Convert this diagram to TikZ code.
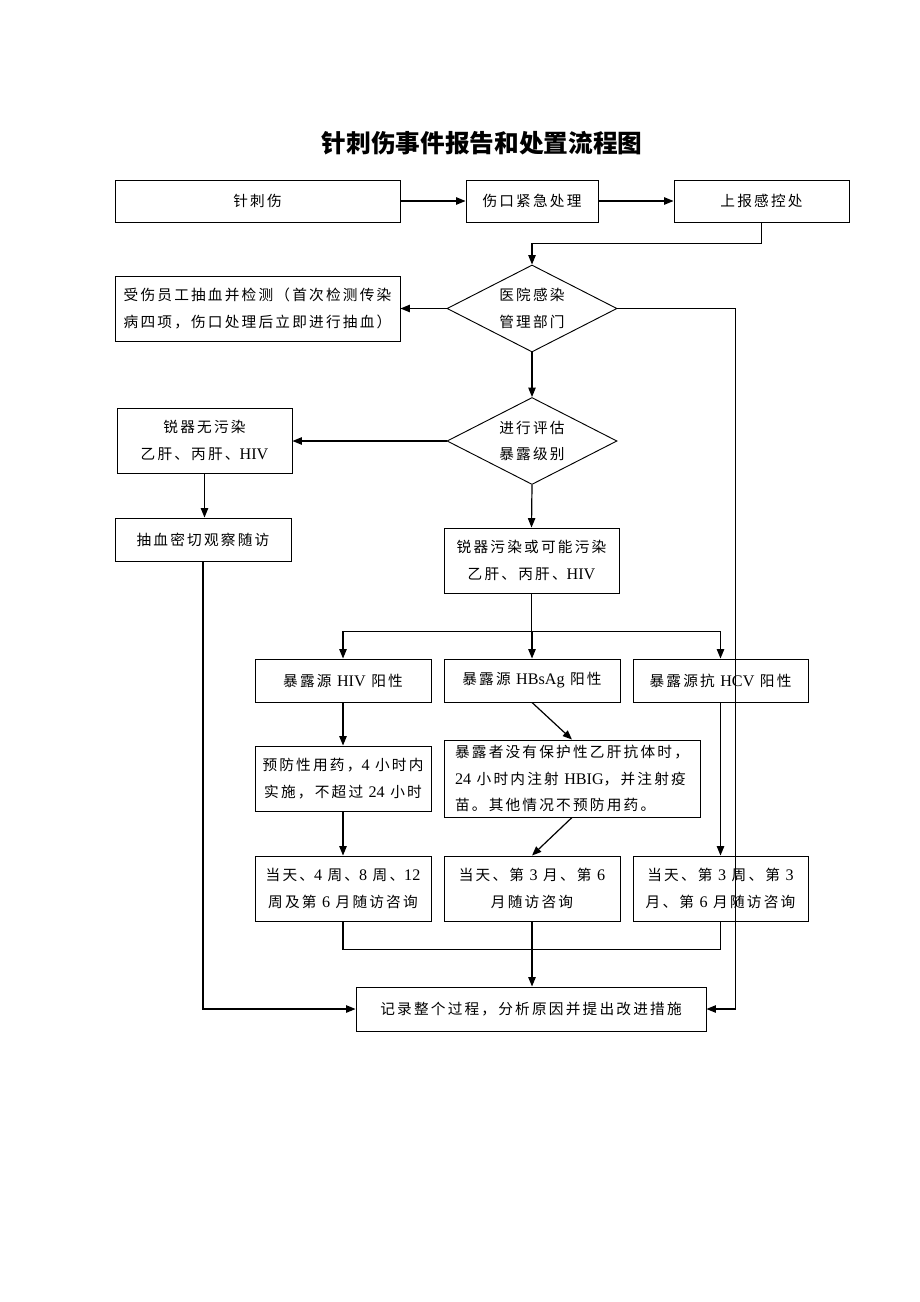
\documentclass[tikz,border=0pt]{standalone}
\usepackage{fontspec}
\setmainfont{Noto Sans CJK SC}[LetterSpace=15]
\newfontfamily\titlefont{Noto Sans CJK SC}
\newfontfamily\latinfont{Liberation Serif}[Scale=1.1]
\newcommand{\en}[1]{{\latinfont #1}}
\usepackage{tikz}
\usetikzlibrary{shapes.geometric, arrows.meta}

\begin{document}
\begin{tikzpicture}[
    x=0.75pt, y=-0.75pt,
    every node/.style={font=\fontsize{11pt}{20pt}\selectfont, align=center, inner sep=0pt},
    box/.style 2 args={draw, line width=0.7pt, minimum width=#1*0.75pt, minimum height=#2*0.75pt},
    choice/.style={draw, line width=0.7pt, diamond, aspect=2, minimum width=170*0.75pt, minimum height=87*0.75pt},
    arr/.style={line width=0.9pt, -{Triangle[length=7pt, width=5.5pt]}},
    link/.style={line width=0.9pt}
    ]
    \useasboundingbox (0,0) rectangle (920,1302);

    \node[font=\titlefont\bfseries\fontsize{18.5pt}{22pt}\selectfont] (title) at (482,143) {针刺伤事件报告和处置流程图};

    \node[box={285}{42}] (inj) at (257.5,201) {针刺伤};
    \node[box={132}{42}] (wound) at (532,201) {伤口紧急处理};
    \node[box={175}{42}] (report) at (761.5,201) {上报感控处};

    \node[choice] (dept) at (532,308.5) {医院感染\\管理部门};
    \node[box={285}{65}, align=left] (blood) at (257.5,308.5) {受伤员工抽血并检测（首次检测传染\\病四项，伤口处理后立即进行抽血）};

    \node[choice] (assess) at (532,441) {进行评估\\暴露级别};
    \node[box={175}{65}] (clean) at (204.5,440.5) {锐器无污染\\乙肝、丙肝、\en{HIV}};
    \node[box={176}{43}] (observe) at (203,539.5) {抽血密切观察随访};
    \node[box={175}{65}] (contam) at (531.5,560.5) {锐器污染或可能污染\\乙肝、丙肝、\en{HIV}};

    \node[box={176}{43}] (hiv) at (343,680.5) {暴露源 \en{HIV} 阳性};
    \node[box={176}{43}] (hbv) at (532,680.5) {暴露源 \en{HBsAg} 阳性};
    \node[box={175}{43}] (hcv) at (720.5,680.5) {暴露源抗 \en{HCV} 阳性};

    \node[box={176}{65}] (pep) at (343,778.5) {预防性用药，\en{4} 小时内\\实施，不超过 \en{24} 小时};
    \node[box={256}{77}, align=left] (hbig) at (572,778.5) {暴露者没有保护性乙肝抗体时，\\\en{24} 小时内注射 \en{HBIG}，并注射疫\\苗。其他情况不预防用药。};

    \node[box={176}{65}] (fhiv) at (343,888.5) {当天、\en{4} 周、\en{8} 周、\en{12}\\周及第 \en{6} 月随访咨询};
    \node[box={176}{65}] (fhbv) at (532,888.5) {当天、第 \en{3} 月、第 \en{6}\\月随访咨询};
    \node[box={175}{65}] (fhcv) at (720.5,888.5) {当天、第 \en{3} 周、第 \en{3}\\月、第 \en{6} 月随访咨询};

    \node[box={350}{44}] (record) at (531,1009) {记录整个过程，分析原因并提出改进措施};

    \draw[arr] (inj) -- (wound);
    \draw[arr] (wound) -- (report);
    \draw[arr] (report.south) -- ++(0,21) -| (dept.north);
    \draw[arr] (dept.west) -- (blood.east);
    \draw[arr] (dept.east) -- ++(118,0) |- (record.east);
    \draw[arr] (dept.south) -- (assess.north);
    \draw[arr] (assess.west) -- (assess.west -| clean.east);
    \draw[arr] (clean.south) -- (clean.south |- observe.north);
    \draw[arr] (observe.south) |- (record.west);
    \draw[arr] (assess.south) -- (contam.north);

    \draw[link] (contam.south) -- ++(0,38) coordinate (split);
    \draw[link] (split -| hiv.north) -- (split -| hcv.north);
    \draw[arr] (split -| hiv.north) -- (hiv.north);
    \draw[arr] (split -| hbv.north) -- (hbv.north);
    \draw[arr] (split -| hcv.north) -- (hcv.north);

    \draw[arr] (hiv) -- (pep);
    \draw[arr] (hbv.south) -- (hbig.north);
    \draw[arr] (hbig.south) -- (fhbv.north);
    \draw[arr] (hcv) -- (fhcv);
    \draw[arr] (pep) -- (fhiv);

    \draw[link] (fhiv.south) -- ++(0,28) -| (fhcv.south);
    \draw[arr] (fhbv.south) -- (fhbv.south |- record.north);
\end{tikzpicture}
\end{document}
